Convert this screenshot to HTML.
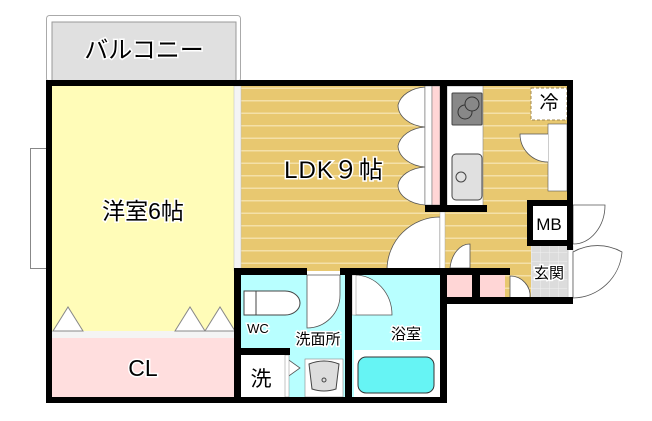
<!DOCTYPE html>
<html><head><meta charset="utf-8"><style>
html,body{margin:0;padding:0;background:#fff;width:652px;height:421px;overflow:hidden}
svg{display:block}
text{font-family:"Liberation Sans","Noto Sans CJK JP",sans-serif;fill:#000;stroke:#fff;stroke-width:3;paint-order:stroke;text-anchor:middle}
</style></head><body>
<svg width="652" height="421" viewBox="0 0 652 421" xmlns="http://www.w3.org/2000/svg">
<defs>
<pattern id="st" width="10" height="12.5" patternUnits="userSpaceOnUse">
<rect width="10" height="12.5" fill="#e8c870"/><rect y="0" width="10" height="1.5" fill="#f4e0a8"/>
</pattern>
<pattern id="tile" width="9" height="9" patternUnits="userSpaceOnUse">
<rect width="9" height="9" fill="#dcdcdc"/><path d="M0 0H9M0 0V9" stroke="#f0f0f0" stroke-width="1"/>
</pattern>
</defs>
<rect x="46.5" y="15.5" width="194" height="66" rx="3" fill="#fff" stroke="#aaa"/>
<rect x="52" y="22" width="184" height="60" fill="#e0e0e0" stroke="#999"/>
<text x="144" y="58" font-size="24">バルコニー</text>
<rect x="52" y="86" width="182" height="245" fill="#fffcb8"/>
<rect x="52" y="331" width="182" height="7" fill="#f4f4f4"/>
<rect x="52" y="338" width="182" height="59" fill="#ffdede"/>
<rect x="241" y="86" width="206" height="185" fill="url(#st)"/>
<rect x="447" y="86" width="121" height="212" fill="url(#st)"/>
<rect x="234" y="86" width="7" height="185" fill="#f4f4f4" stroke="#bbb" stroke-width=".5"/>
<rect x="30.5" y="148.5" width="16" height="120" fill="#fff" stroke="#888"/>
<path d="M53 331L68 307L83 331ZM175 331L190 307L205 331ZM205 331L220 307L235 331Z" fill="#fff" stroke="#888"/>
<path d="M425 87A30 22 0 0 0 398 105A30 22 0 0 0 425 127ZM425 127A30 22 0 0 0 398 146A30 22 0 0 0 425 167ZM425 167A30 20 0 0 0 398 185A30 20 0 0 0 425 205Z" fill="#fff" stroke="#555" stroke-width=".8"/>
<rect x="425" y="86" width="7" height="119" fill="#fff" stroke="#777" stroke-width=".6"/>
<rect x="432" y="86" width="8" height="119" fill="#ffd6d6" stroke="#777" stroke-width=".6"/>
<rect x="447" y="86" width="36" height="120" fill="#fff" stroke="#888" stroke-width=".6"/>
<rect x="452" y="93" width="30" height="32" rx="1" fill="#888" stroke="#444"/>
<circle cx="465" cy="112" r="7" fill="#888" stroke="#333"/>
<circle cx="472" cy="104" r="7" fill="#888" stroke="#333"/>
<rect x="452" y="154" width="30" height="46" rx="4" fill="#e0e0e0" stroke="#444"/>
<circle cx="461" cy="177" r="5" fill="#e0e0e0" stroke="#444"/>
<rect x="531" y="88" width="36" height="32" fill="#fff" stroke="#a08850" stroke-dasharray="3 2"/>
<text x="549" y="109" font-size="19">冷</text>
<rect x="548" y="124" width="19" height="67" fill="#fff" stroke="#555" stroke-width=".6"/>
<path d="M548 162A28 28 0 0 1 520 134L548 134" fill="#fff" stroke="#555" stroke-width=".8"/>
<path d="M387 270A53 53 0 0 1 440 217L440 270Z" fill="#fff" stroke="#555" stroke-width=".8"/>
<rect x="440" y="212" width="5" height="58" fill="#fff" stroke="#aaa" stroke-width=".5"/>
<path d="M450 268A20 28 0 0 1 470 244L470 268Z" fill="#fff" stroke="#555" stroke-width=".8"/>
<rect x="531" y="245" width="37" height="53" fill="url(#tile)"/>
<text x="549" y="278" font-size="15">玄関</text>
<rect x="568" y="246" width="5" height="52" fill="#fff" stroke="#999" stroke-width=".5"/>
<path d="M573 298L573 252A50 50 0 0 1 622 252A50 50 0 0 1 573 298Z" fill="#fff" stroke="#555" stroke-width=".8"/>
<path d="M573 244L573 205L605 205A32 39 0 0 1 573 244Z" fill="#fff" stroke="#555" stroke-width=".8"/>
<rect x="530" y="203" width="40" height="40" fill="#fff" stroke="#000" stroke-width="6"/>
<text x="549" y="230" font-size="17" stroke="none">MB</text>
<rect x="447" y="275" width="25" height="23" fill="#ffd6d6"/>
<rect x="480" y="275" width="25" height="23" fill="#ffd6d6"/>
<path d="M510 298L510 276A20 20 0 0 1 530 298Z" fill="#fff" stroke="#555" stroke-width=".8"/>
<rect x="241" y="275" width="104" height="123" fill="#b8ffff"/>
<rect x="352" y="275" width="88" height="122" fill="#b8ffff"/>
<rect x="241" y="355" width="44" height="42" fill="#fff"/>
<path d="M307 275L340 275L340 295A33 33 0 0 1 307 328Z" fill="#fff" stroke="#555" stroke-width=".8"/>
<path d="M355 275L355 315L392 315A37 40 0 0 0 355 275Z" fill="#fff" stroke="#555" stroke-width=".8"/>
<rect x="352" y="275" width="4" height="40" fill="#fff" stroke="#888" stroke-width=".5"/>
<path d="M244 291L285 291A15 12 0 0 1 285 315L244 315Z" fill="#fff" stroke="#444"/>
<path d="M256 291V315" stroke="#444" fill="none"/>
<text x="258" y="333" font-size="13">WC</text>
<text x="318" y="344" font-size="15">洗面所</text>
<text x="406" y="339" font-size="15">浴室</text>
<path d="M286 358L286 378L300 368Z" fill="#fff" stroke="#555" stroke-width=".8"/>
<rect x="285" y="355" width="4" height="42" fill="#fff" stroke="#888" stroke-width=".5"/>
<rect x="305" y="359" width="38" height="38" fill="#fff" stroke="#888" stroke-width=".6"/>
<path d="M309 364Q324 358 339 364L336 389Q324 393 312 389Z" fill="#ddd" stroke="#444"/>
<circle cx="324" cy="380" r="2" fill="none" stroke="#444"/>
<rect x="354" y="350" width="86" height="47" fill="#fff"/>
<rect x="358" y="357" width="76" height="36" rx="8" fill="#66f4f4" stroke="#333"/>
<text x="261" y="386" font-size="21">洗</text>
<g fill="#000">
<rect x="46" y="80" width="527" height="6"/>
<rect x="46" y="80" width="6" height="323"/>
<rect x="46" y="397" width="401" height="6"/>
<rect x="234" y="268" width="7" height="135"/>
<rect x="234" y="268" width="73" height="7"/>
<rect x="340" y="268" width="107" height="7"/>
<rect x="345" y="268" width="7" height="135"/>
<rect x="440" y="268" width="7" height="135"/>
<rect x="440" y="80" width="7" height="132"/>
<rect x="425" y="205" width="62" height="7"/>
<rect x="567" y="80" width="6" height="124"/>
<rect x="567" y="242" width="6" height="8"/>
<rect x="447" y="268" width="63" height="7"/>
<rect x="472" y="268" width="8" height="30"/>
<rect x="447" y="297" width="126" height="7"/>
<rect x="234" y="348" width="56" height="7"/>
</g>
<text x="143" y="219" font-size="23">洋室6帖</text>
<text x="334" y="178" font-size="24" letter-spacing="1">LDK９帖</text>
<text x="143" y="376" font-size="23">CL</text>
</svg>
</body></html>
